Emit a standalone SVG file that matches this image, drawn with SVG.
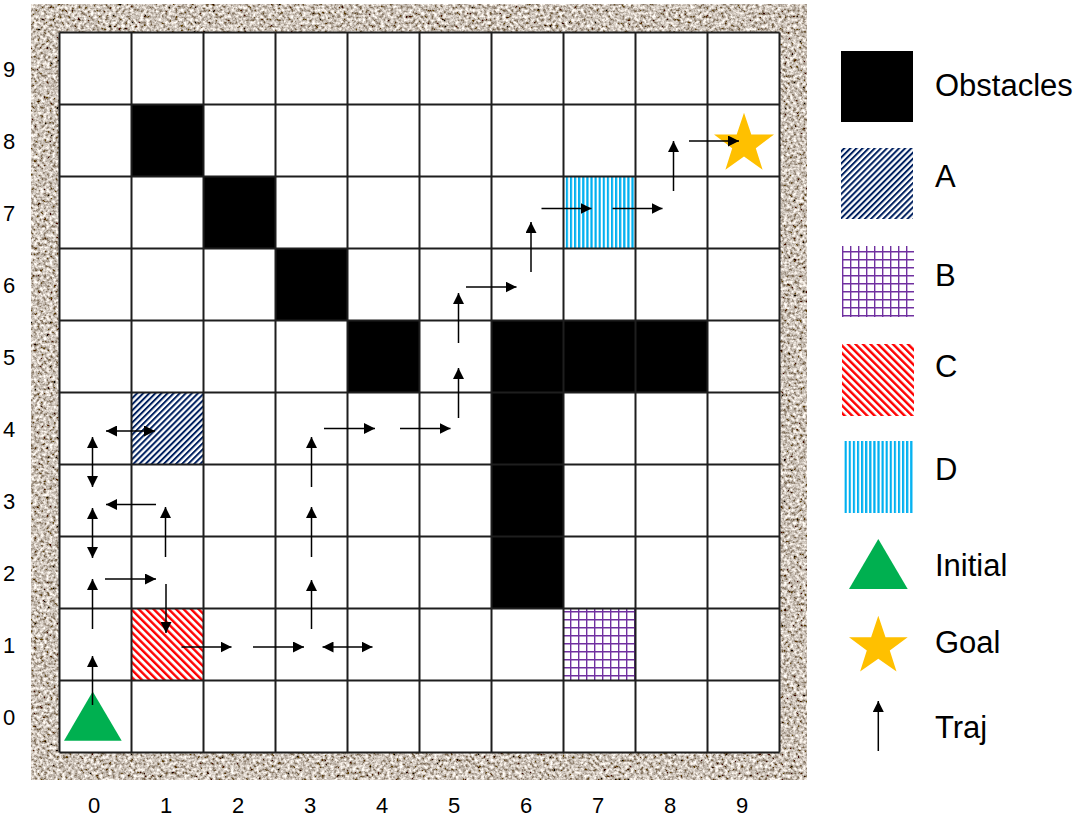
<svg xmlns="http://www.w3.org/2000/svg" width="1078" height="821" viewBox="0 0 1078 821">
<style>
.lbl{font-family:"Liberation Sans",Arial,sans-serif;font-size:22px;fill:#000}
.leg{font-family:"Liberation Sans",Arial,sans-serif;font-size:31px;fill:#000}
.grid{stroke:#1e1e1e;stroke-width:2;fill:none}
.traj{stroke:#000;stroke-width:1.5;fill:none;marker-end:url(#ah)}
.dbl{stroke:#000;stroke-width:1.5;fill:none;marker-start:url(#ah);marker-end:url(#ah)}
.obs{fill:#000}
</style>
<defs>
<marker id="ah" markerUnits="userSpaceOnUse" markerWidth="11" markerHeight="11" refX="11" refY="5.5" orient="auto-start-reverse" viewBox="0 0 11 11">
<path d="M0,0 L11,5.5 L0,11 z" fill="#000"/>
</marker>
<filter id="granite" x="0" y="0" width="100%" height="100%" filterUnits="objectBoundingBox">
<feTurbulence type="fractalNoise" baseFrequency="0.32" numOctaves="3" seed="7" result="n"/>
<feColorMatrix in="n" type="matrix" values="1.8 0 0 0 -0.3  1.8 0 0 0 -0.36  1.8 0 0 0 -0.42  0 0 0 0 1"/>
</filter>
<pattern id="pA" patternUnits="userSpaceOnUse" width="4.3" height="10" patternTransform="rotate(45)">
<rect width="4.3" height="10" fill="#fff"/><rect width="2" height="10" fill="#002060"/>
</pattern>
<pattern id="pC" patternUnits="userSpaceOnUse" width="5.3" height="10" patternTransform="rotate(-45)">
<rect width="5.3" height="10" fill="#fff"/><rect width="2.4" height="10" fill="#ff0000"/>
</pattern>
<pattern id="pB" patternUnits="userSpaceOnUse" width="8" height="8" x="2" y="3">
<rect width="8" height="8" fill="#fff"/><path d="M0.7,0 V8 M0,0.7 H8" stroke="#7030a0" stroke-width="1.4"/>
</pattern>
<pattern id="pD" patternUnits="userSpaceOnUse" width="4.1" height="10">
<rect width="4.1" height="10" fill="#fff"/><rect width="2.2" height="10" fill="#00b0f0"/>
</pattern>
</defs>
<rect width="1078" height="821" fill="#fff"/>
<g id="frame">
<rect x="31" y="4" width="776" height="776" fill="#a89a8c" filter="url(#granite)"/>
<rect x="59.5" y="32.5" width="720" height="720" fill="#fff"/>
</g>
<g id="regions">
<rect id="regionA" x="131.5" y="392.5" width="72" height="72" fill="url(#pA)"/>
<rect id="regionB" x="563.5" y="608.5" width="72" height="72" fill="url(#pB)"/>
<rect id="regionC" x="131.5" y="608.5" width="72" height="72" fill="url(#pC)"/>
<rect id="regionD" x="563.5" y="176.5" width="72" height="72" fill="url(#pD)"/>
</g>
<g id="obstacles">
<rect class="obs" x="131.5" y="104.5" width="72" height="72"/>
<rect class="obs" x="203.5" y="176.5" width="72" height="72"/>
<rect class="obs" x="275.5" y="248.5" width="72" height="72"/>
<rect class="obs" x="347.5" y="320.5" width="72" height="72"/>
<path class="obs" d="M491.5,320.5 H707.5 V392.5 H563.5 V608.5 H491.5 Z"/>
</g>
<g id="gridlines">
<path class="grid" d="M59.5,32.5 V752.5 M131.5,32.5 V752.5 M203.5,32.5 V752.5 M275.5,32.5 V752.5 M347.5,32.5 V752.5 M419.5,32.5 V752.5 M491.5,32.5 V752.5 M563.5,32.5 V752.5 M635.5,32.5 V752.5 M707.5,32.5 V752.5 M779.5,32.5 V752.5 M59.5,32.5 H779.5 M59.5,104.5 H779.5 M59.5,176.5 H779.5 M59.5,248.5 H779.5 M59.5,320.5 H779.5 M59.5,392.5 H779.5 M59.5,464.5 H779.5 M59.5,536.5 H779.5 M59.5,608.5 H779.5 M59.5,680.5 H779.5 M59.5,752.5 H779.5"/>
</g>
<g id="initial">
<path d="M92.7,691.5 L121.7,740.7 L64,740.7 Z" fill="#00b050"/>
</g>
<g id="goal">
<path d="M744,112.7 L751.3,134.5 L774,134.5 L755.8,148.2 L762.6,169.7 L744,156.4 L725.4,169.7 L732.2,148.2 L714,134.5 L736.7,134.5 Z" fill="#ffc000"/>
</g>
<g id="connectors">
<line class="traj" x1="92.5" y1="705" x2="92.5" y2="656"/>
<line class="traj" x1="92.5" y1="629" x2="92.5" y2="579"/>
<line class="traj" x1="105" y1="579" x2="156" y2="579"/>
<line class="traj" x1="166" y1="584" x2="166" y2="633"/>
<line class="traj" x1="181.5" y1="647" x2="231.5" y2="647"/>
<line class="traj" x1="253" y1="647" x2="304" y2="647"/>
<line class="dbl" x1="322.5" y1="647" x2="372.5" y2="647"/>
<line class="traj" x1="311.5" y1="629" x2="311.5" y2="580"/>
<line class="traj" x1="311.5" y1="557" x2="311.5" y2="507"/>
<line class="traj" x1="311.5" y1="487" x2="311.5" y2="437"/>
<line class="traj" x1="324" y1="428.5" x2="375" y2="428.5"/>
<line class="traj" x1="400" y1="428.5" x2="450.5" y2="428.5"/>
<line class="traj" x1="458.5" y1="418" x2="458.5" y2="368"/>
<line class="traj" x1="458.5" y1="343" x2="458.5" y2="293"/>
<line class="traj" x1="466" y1="287" x2="516.5" y2="287"/>
<line class="traj" x1="531" y1="272" x2="531" y2="222"/>
<line class="traj" x1="541.5" y1="208.5" x2="591.5" y2="208.5"/>
<line class="traj" x1="612.5" y1="208.5" x2="662.5" y2="208.5"/>
<line class="traj" x1="673.5" y1="191" x2="673.5" y2="141"/>
<line class="traj" x1="689" y1="141" x2="739" y2="141"/>
<line class="dbl" x1="92.5" y1="508" x2="92.5" y2="558"/>
<line class="traj" x1="156" y1="504.5" x2="106" y2="504.5"/>
<line class="traj" x1="165.5" y1="557" x2="165.5" y2="507"/>
<line class="dbl" x1="92.5" y1="437" x2="92.5" y2="487"/>
<line class="dbl" x1="106" y1="431" x2="155" y2="431"/>
</g>
<g id="yaxis" class="lbl" text-anchor="middle">
<text x="9" y="77">9</text>
<text x="9" y="149">8</text>
<text x="9" y="221">7</text>
<text x="9" y="293">6</text>
<text x="9" y="365">5</text>
<text x="9" y="437">4</text>
<text x="9" y="509">3</text>
<text x="9" y="581">2</text>
<text x="9" y="653">1</text>
<text x="9" y="725">0</text>
</g>
<g id="xaxis" class="lbl" text-anchor="middle">
<text x="94" y="813">0</text>
<text x="166" y="813">1</text>
<text x="238" y="813">2</text>
<text x="310" y="813">3</text>
<text x="382" y="813">4</text>
<text x="454" y="813">5</text>
<text x="526" y="813">6</text>
<text x="598" y="813">7</text>
<text x="670" y="813">8</text>
<text x="742" y="813">9</text>
</g>
<g id="legend">
<g id="leg-obstacles"><rect x="841" y="51" width="72" height="71" fill="#000"/><text class="leg" x="935" y="96">Obstacles</text></g>
<g id="leg-A"><rect x="841" y="148" width="72" height="71" fill="url(#pA)"/><text class="leg" x="935" y="187">A</text></g>
<g id="leg-B"><rect x="842" y="246" width="72" height="71" fill="url(#pB)"/><text class="leg" x="935" y="286">B</text></g>
<g id="leg-C"><rect x="842" y="344" width="72" height="72" fill="url(#pC)"/><text class="leg" x="935" y="377">C</text></g>
<g id="leg-D"><rect x="844" y="441" width="70" height="72" fill="url(#pD)"/><text class="leg" x="935" y="480">D</text></g>
<g id="leg-initial"><path d="M878.3,539 L907.7,589 L849,589 Z" fill="#00b050"/><text class="leg" x="935" y="576">Initial</text></g>
<g id="leg-goal"><path d="M878.3,615.7 L885.5,637.3 L907.7,637.3 L889.8,650.6 L896.5,671.6 L878.3,658.7 L860.1,671.6 L866.8,650.6 L849,637.3 L871.1,637.3 Z" fill="#ffc000"/><text class="leg" x="935" y="653">Goal</text></g>
<g id="leg-traj"><line class="traj" x1="878.3" y1="751" x2="878.3" y2="701"/><text class="leg" x="935" y="738">Traj</text></g>
</g>
</svg>
